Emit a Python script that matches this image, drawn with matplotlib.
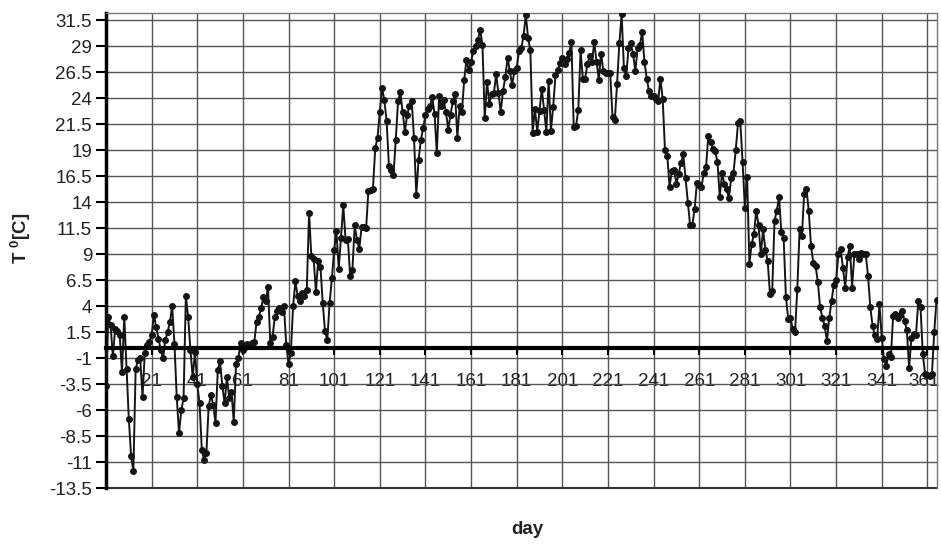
import numpy as np
import matplotlib
matplotlib.use("Agg")
import matplotlib.pyplot as plt
from matplotlib.transforms import ScaledTranslation

plt.rcParams['font.family'] = ['Liberation Sans', 'DejaVu Sans']
plt.rcParams['mathtext.fontset'] = 'custom'
plt.rcParams['mathtext.rm'] = 'Liberation Sans'
plt.rcParams['mathtext.bf'] = 'Liberation Sans:bold'

# daily mean temperature (days 1..365)
winter_start = [-3.7, 3.0, 2.2, -0.8, 1.8, 1.6, 1.2, -2.3, 3.0, -2.0, -6.8, -10.4, -11.8, -2.0, -1.2, -1.0, -4.7, -0.5, 0.3, 0.6,
                1.2, 3.2, 2.0, 0.9, -0.2, -1.0, 0.8, 1.5, 2.5, 4.0, 0.4, -4.7, -8.2, -6.0, -4.8, 5.0, 3.0, -0.2, -2.8, -0.4,
                -3.5, -5.3, -9.8, -10.8, -10.1, -5.6, -4.5, -5.5, -7.2, -2.1, -1.3, -3.7, -5.3, -2.8, -4.8, -4.2, -7.1, -1.5, -1.0, 0.5,
                -0.2, 0.1, 0.4, 0.3, 0.5, 0.6, 2.5, 3.0, 3.8, 4.9, 4.5, 5.9, 0.5, 1.1, 3.0, 3.6, 3.8, 3.5, 4.0, 0.3]
spring = [-1.5, -0.5, 4.0, 6.4, 5.0, 4.5, 5.3, 5.0, 5.6, 13.0, 8.8, 8.6, 5.4, 8.4, 7.8, 4.3, 1.6, 0.8, 4.3, 6.7,
          9.4, 11.2, 7.6, 10.6, 13.7, 10.4, 10.5, 6.9, 7.5, 11.8, 10.4, 9.5, 11.6, 11.6, 11.5, 15.1, 15.2, 15.3, 19.2, 20.2,
          22.7, 25.0, 23.8, 21.8, 17.5, 17.1, 16.6, 20.0, 23.7, 24.6, 22.7, 20.8, 22.4, 23.3, 23.7, 20.2, 14.7, 18.1, 20.0, 21.1,
          22.4, 23.0, 23.3, 24.1, 22.5, 18.7, 24.2, 23.3, 23.8, 22.7, 21.0, 22.4, 23.7, 24.4, 20.2, 23.3, 22.7, 25.8, 27.7, 26.7]
summer = [27.5, 28.5, 29.0, 29.6, 30.6, 29.1, 22.1, 25.6, 23.5, 24.4, 24.5, 26.3, 24.5, 22.7, 24.7, 26.0, 27.9, 26.6, 25.3, 26.6,
          26.9, 28.5, 28.8, 30.0, 32.0, 29.8, 28.6, 20.7, 23.0, 20.8, 22.8, 24.9, 22.9, 20.8, 25.7, 20.9, 23.2, 26.2, 26.7, 27.4,
          27.9, 27.3, 27.8, 28.4, 29.4, 21.2, 21.3, 22.9, 28.6, 25.9, 25.9, 27.3, 28.1, 27.5, 29.4, 27.5, 25.8, 28.3, 26.6, 26.4,
          26.4, 26.4, 22.2, 21.9, 25.4, 29.3, 32.1, 26.9, 26.1, 28.8, 29.3, 28.3, 26.6, 28.8, 29.1, 30.4, 27.5, 25.9, 24.7, 24.2]
autumn = [24.2, 23.9, 23.7, 25.9, 23.9, 19.0, 18.5, 15.5, 17.0, 17.1, 15.8, 16.7, 17.8, 18.6, 16.3, 13.9, 11.8, 11.8, 13.4, 15.9,
          15.7, 15.5, 16.8, 17.4, 20.4, 19.8, 19.1, 18.9, 17.9, 14.5, 16.8, 15.8, 15.3, 14.4, 16.3, 16.8, 19.0, 21.6, 21.8, 17.9,
          13.5, 16.4, 8.1, 10.0, 11.0, 13.2, 11.8, 9.0, 11.4, 9.4, 8.4, 5.2, 5.5, 12.2, 13.2, 14.5, 11.1, 10.6, 4.9, 2.8,
          2.9, 1.8, 1.5, 5.7, 11.4, 10.8, 14.8, 15.3, 13.2, 9.8, 8.2, 7.9, 6.3, 3.9, 2.9, 2.1, 0.7, 2.9, 4.5, 6.1]
winter_end = [6.5, 9.0, 9.5, 7.7, 5.8, 8.7, 9.8, 5.8, 9.0, 9.0, 8.6, 9.1, 9.0, 9.0, 6.9, 3.9, 2.1, 1.2, 0.9, 4.2,
              1.0, -1.1, -1.7, -0.6, -0.9, 3.1, 3.3, 2.9, 3.2, 3.6, 2.6, 1.7, -1.9, 1.0, 1.3, 1.2, 4.5, 3.9, -0.6, -2.5,
              -2.6, -2.7, -2.5, 1.5, 4.6]

temps = winter_start + spring + summer + autumn + winter_end
days = np.arange(1, len(temps) + 1)

y_ticks = np.arange(-13.5, 31.6, 2.5)
x_ticks = list(range(21, 362, 20))

fig = plt.figure(figsize=(9.41, 5.45), dpi=100)
ax = fig.add_axes([106 / 941, 1 - 488.4 / 545, 830.5 / 941, (488.4 - 13) / 545])

ax.plot(days, temps, color='#151515', lw=1.4, marker='o', ms=4, zorder=3)

ax.set_xlim(1, 365)
ax.set_ylim(-13.5, 32.2)
ax.set_yticks(y_ticks)
ax.set_yticklabels([f"{v:g}" for v in y_ticks])
ax.set_xticks(x_ticks)
ax.set_xticklabels([str(t) for t in x_ticks])

ax.grid(True, color='#555555', lw=1.0)
ax.set_axisbelow(True)

# x axis sits on zero like the spreadsheet chart
ax.spines['bottom'].set_position(('data', 0))
ax.spines['bottom'].set_linewidth(3)
ax.spines['bottom'].set_color('black')
ax.spines['bottom'].set_zorder(4)
ax.spines['left'].set_linewidth(2.5)
ax.spines['left'].set_color('black')
for s in ['top', 'right']:
    ax.spines[s].set_color('#777777')
    ax.spines[s].set_linewidth(1.0)
ax.plot([0, 1], [0, 0], transform=ax.transAxes, color='#333333', lw=1.5, clip_on=False)

ax.tick_params(axis='x', direction='out', length=5, width=1.5, pad=13, labelsize=13.5, labelcolor='#222222')
ax.tick_params(axis='y', direction='out', length=7, width=1.5, pad=3, labelsize=13.5, labelcolor='#222222')

# last label sits against the right edge, nudge it in a little
last = ax.get_xticklabels()[-1]
last.set_transform(last.get_transform() + ScaledTranslation(-3 / 100, 0, fig.dpi_scale_trans))

fig.text(21 / 941, 1 - 238 / 545, r'T $\mathbf{^0}$[C]', rotation=90, ha='center', va='center',
         fontsize=13.5, fontweight='bold', color='#222222')
fig.text(527 / 941, 1 - 530 / 545, 'day', ha='center', va='center',
         fontsize=13.5, fontweight='bold', color='#222222')

fig.savefig('out.png', dpi=100)
